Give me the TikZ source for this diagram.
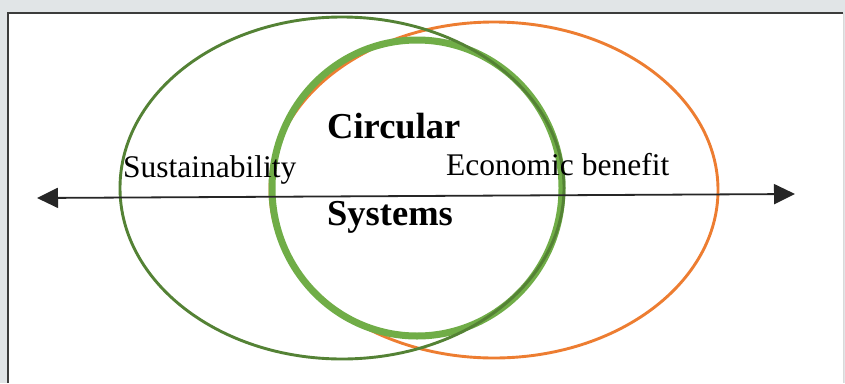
\documentclass[tikz,border=0pt]{standalone}
\usepackage{fontspec}
\setmainfont{Liberation Serif}
\usetikzlibrary{arrows.meta}
\definecolor{pagegray}{HTML}{E1E5E7}
\definecolor{framegray}{HTML}{3C3C3C}
\definecolor{darkgreen}{HTML}{548235}
\definecolor{lightgreen}{HTML}{70AD47}
\definecolor{orangeline}{HTML}{ED7D31}
\tikzset{
  ring/.style={line width=2.9pt},
  label/.style={inner sep=0pt, anchor=base west, font=\fontsize{31.5}{33}\selectfont},
  title/.style={inner sep=0pt, anchor=base west, font=\fontsize{36.5}{38}\selectfont\bfseries},
  axis/.style={line width=1.8pt, black!85, {Triangle[length=21pt,width=20pt]}-{Triangle[length=21pt,width=20pt]}}
}
\begin{document}
\begin{tikzpicture}[x=1pt,y=-1pt]
  % page and framed panel
  \fill[pagegray] (0,0) rectangle (845,383);
  \useasboundingbox (0,0) rectangle (845,383);
  \fill[white] (8,13) rectangle (843,383);
  \draw[black!15, line width=0.8pt] (843,13) -- (843,383);
  \draw[framegray, line width=1.6pt] (8,383) -- (8,13) -- (843,13);

  % the three overlapping rings
  \draw[ring, orangeline] (494,190) ellipse [x radius=224, y radius=168];
  \draw[lightgreen, line width=7pt] (417,188) ellipse [x radius=145, y radius=148];
  \draw[ring, darkgreen] (342,188) ellipse [x radius=222, y radius=171];

  % horizontal double-headed axis
  \coordinate (left) at (37,198);
  \coordinate (right) at (795,194);
  \draw[axis] (left) -- (right);

  % labels
  \node[label] (sust) at (123,177) {Sustainability};
  \node[label] (econ) at (446,175) {Economic benefit};
  \node[title] (circ) at (327,138) {Circular};
  \node[title] (sys) at (327,225) {Systems};
\end{tikzpicture}
\end{document}
